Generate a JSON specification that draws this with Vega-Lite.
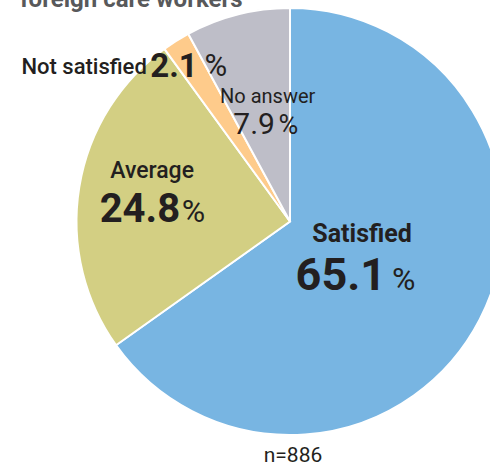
{
  "$schema": "https://vega.github.io/schema/vega-lite/v6.json",
  "autosize": "none",
  "width": 580,
  "height": 443,
  "padding": {"top": 0, "left": 0, "right": 0, "bottom": 23},
  "background": "white",
  "config": {"view": {"stroke": null}},
  "layer": [
    {
      "data": {
        "values": [
          {"name": "Satisfied", "value": 65.1, "rank": 1},
          {"name": "Average", "value": 24.8, "rank": 2},
          {"name": "Not satisfied", "value": 2.1, "rank": 3},
          {"name": "No answer", "value": 7.9, "rank": 4}
        ]
      },
      "encoding": {
        "theta": {"field": "value", "type": "quantitative", "stack": true},
        "order": {"field": "rank", "type": "quantitative"},
        "detail": {"field": "name", "type": "nominal"}
      },
      "layer": [
        {
          "mark": {"type": "arc", "outerRadius": 213.5, "stroke": "white", "strokeWidth": 2},
          "encoding": {
            "color": {
              "field": "name",
              "type": "nominal",
              "legend": null,
              "scale": {
                "domain": ["Satisfied", "Average", "Not satisfied", "No answer"],
                "range": ["#78b5e2", "#d3cf83", "#fecb8b", "#bebec8"]
              }
            }
          }
        },
        {
          "mark": {"type": "text", "radius": 80, "dx": 1, "dy": -16.5, "align": "center", "baseline": "alphabetic", "font": "Roboto", "fontSize": 25, "fontWeight": "bold", "fill": "#231f20"},
          "encoding": {"text": {"condition": {"test": "datum.name === 'Satisfied'", "field": "name"}, "value": ""}}
        },
        {
          "mark": {"type": "text", "radius": 80, "dx": 25, "dy": 31.5, "align": "right", "baseline": "alphabetic", "font": "Roboto", "fontSize": 45, "fontWeight": "bold", "fill": "#231f20"},
          "encoding": {"text": {"condition": {"test": "datum.name === 'Satisfied'", "field": "value", "format": ".1f"}, "value": ""}}
        },
        {
          "mark": {"type": "text", "radius": 80, "dx": 31, "dy": 31.5, "align": "left", "baseline": "alphabetic", "font": "Roboto", "fontSize": 32, "fontWeight": "normal", "fill": "#231f20"},
          "encoding": {"text": {"condition": {"test": "datum.name === 'Satisfied'", "value": "%"}, "value": ""}}
        },
        {
          "mark": {"type": "text", "radius": 130, "dx": -9.6, "dy": -22.7, "align": "center", "baseline": "alphabetic", "font": "Roboto", "fontSize": 23, "fontWeight": 500, "fill": "#231f20"},
          "encoding": {"text": {"condition": {"test": "datum.name === 'Average'", "field": "name"}, "value": ""}}
        },
        {
          "mark": {"type": "text", "radius": 130, "dx": 18.4, "dy": 21.3, "align": "right", "baseline": "alphabetic", "font": "Roboto", "fontSize": 40, "fontWeight": "bold", "fill": "#231f20"},
          "encoding": {"text": {"condition": {"test": "datum.name === 'Average'", "field": "value", "format": ".1f"}, "value": ""}}
        },
        {
          "mark": {"type": "text", "radius": 130, "dx": 20, "dy": 21.3, "align": "left", "baseline": "alphabetic", "font": "Roboto", "fontSize": 32, "fontWeight": "normal", "fill": "#231f20"},
          "encoding": {"text": {"condition": {"test": "datum.name === 'Average'", "value": "%"}, "value": ""}}
        },
        {
          "mark": {"type": "text", "radius": 220, "dx": -25.8, "dy": 38.4, "align": "right", "baseline": "alphabetic", "font": "Roboto", "fontSize": 22, "fontWeight": 500, "fill": "#231f20"},
          "encoding": {"text": {"condition": {"test": "datum.name === 'Not satisfied'", "field": "name"}, "value": ""}}
        },
        {
          "mark": {"type": "text", "radius": 220, "dx": 25.2, "dy": 41.4, "align": "right", "baseline": "alphabetic", "font": "Roboto", "fontSize": 33, "fontWeight": "bold", "fill": "#231f20"},
          "encoding": {"text": {"condition": {"test": "datum.name === 'Not satisfied'", "field": "value", "format": ".1f"}, "value": ""}}
        },
        {
          "mark": {"type": "text", "radius": 220, "dx": 32, "dy": 40.5, "align": "left", "baseline": "alphabetic", "font": "Roboto", "fontSize": 31, "fontWeight": "normal", "fill": "#231f20"},
          "encoding": {"text": {"condition": {"test": "datum.name === 'Not satisfied'", "value": "%"}, "value": ""}}
        },
        {
          "mark": {"type": "text", "radius": 110, "dx": 4.7, "dy": -12.1, "align": "center", "baseline": "alphabetic", "font": "Roboto", "fontSize": 20, "fontWeight": "normal", "fill": "#231f20"},
          "encoding": {"text": {"condition": {"test": "datum.name === 'No answer'", "field": "name"}, "value": ""}}
        },
        {
          "mark": {"type": "text", "radius": 110, "dx": 12, "dy": 18.9, "align": "right", "baseline": "alphabetic", "font": "Roboto", "fontSize": 30, "fontWeight": "normal", "fill": "#231f20"},
          "encoding": {"text": {"condition": {"test": "datum.name === 'No answer'", "field": "value", "format": ".1f"}, "value": ""}}
        },
        {
          "mark": {"type": "text", "radius": 110, "dx": 15.5, "dy": 18.9, "align": "left", "baseline": "alphabetic", "font": "Roboto", "fontSize": 27, "fontWeight": "normal", "fill": "#231f20"},
          "encoding": {"text": {"condition": {"test": "datum.name === 'No answer'", "value": "%"}, "value": ""}}
        }
      ]
    },
    {
      "data": {"values": [{"note": "foreign care workers"}]},
      "mark": {"type": "text", "x": 20, "y": 7, "align": "left", "baseline": "alphabetic", "font": "Roboto", "fontSize": 24, "fontWeight": "bold", "fill": "#58595b"},
      "encoding": {"text": {"field": "note", "type": "nominal"}}
    },
    {
      "data": {"values": [{"note": "n=886"}]},
      "mark": {"type": "text", "x": 293, "y": 462, "align": "center", "baseline": "alphabetic", "font": "Roboto", "fontSize": 21, "fontWeight": "normal", "fill": "#231f20"},
      "encoding": {"text": {"field": "note", "type": "nominal"}}
    }
  ]
}
